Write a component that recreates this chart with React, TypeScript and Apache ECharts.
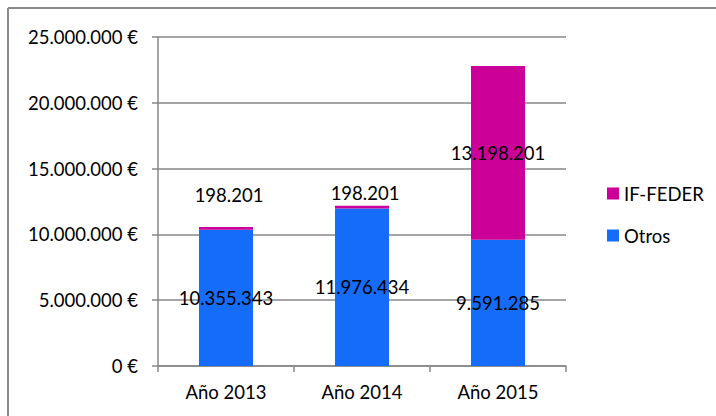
import React, { useEffect, useRef } from "react";
import * as echarts from "echarts";

const categories = ["Año 2013", "Año 2014", "Año 2015"];
const otros = [10355343, 11976434, 9591285];
const ifFeder = [198201, 198201, 13198201];
const seriesNames = ["IF-FEDER", "Otros"];
const yTicks = { min: 0, max: 25000000, interval: 5000000 };

const fmt = (v: number) => String(Math.round(v)).replace(/\B(?=(\d{3})+(?!\d))/g, ".");

const FONT = "Lato";
const FS = 18.5;

export default function App() {
  const ref = useRef<HTMLDivElement>(null);
  useEffect(() => {
    if (!ref.current) return;
    const chart = echarts.init(ref.current, null, { renderer: "svg" });
    const federLabelDist = [23, 3, 0];
    chart.setOption({
      animation: false,
      backgroundColor: "#ffffff",
      textStyle: { fontFamily: FONT },
      grid: { left: 158, right: 150, top: 37, bottom: 50, containLabel: false },
      legend: {
        data: seriesNames,
        orient: "vertical",
        left: 607,
        top: 184,
        padding: 0,
        itemWidth: 12,
        itemHeight: 12,
        itemGap: 23,
        icon: "rect",
        textStyle: { fontFamily: FONT, fontSize: FS, color: "#000", padding: [0, 0, 0, 0] },
      },
      xAxis: {
        type: "category",
        data: categories,
        axisLine: { show: true, lineStyle: { color: "#878787", width: 1.5 } },
        axisTick: { show: true, length: 6, alignWithLabel: false, lineStyle: { color: "#878787", width: 1.5 } },
        axisLabel: { fontFamily: FONT, fontSize: FS, color: "#000", margin: 16 },
        splitLine: { show: false },
      },
      yAxis: {
        type: "value",
        min: yTicks.min,
        max: yTicks.max,
        interval: yTicks.interval,
        axisLine: { show: true, lineStyle: { color: "#878787", width: 1.5 } },
        axisTick: { show: true, length: 6, lineStyle: { color: "#878787", width: 1.5 } },
        axisLabel: {
          fontFamily: FONT,
          fontSize: FS,
          color: "#000",
          margin: 20,
          formatter: (v: number) => fmt(v) + " €",
        },
        splitLine: { show: true, lineStyle: { color: "#878787", width: 1.5 } },
      },
      series: [
        {
          name: "Otros",
          type: "bar",
          stack: "total",
          barWidth: 54,
          data: otros,
          itemStyle: { color: "#146CF8" },
          label: {
            show: true,
            position: "inside",
            fontFamily: FONT,
            fontSize: FS,
            color: "#000",
            formatter: (p: any) => fmt(p.value),
          },
        },
        {
          name: "IF-FEDER",
          type: "bar",
          stack: "total",
          barWidth: 54,
          data: ifFeder.map((v, i) =>
            i < 2
              ? { value: v, label: { position: "top", distance: federLabelDist[i], offset: [3, 0] } }
              : { value: v, label: { position: "inside" } }
          ),
          itemStyle: { color: "#CC0099" },
          label: {
            show: true,
            fontFamily: FONT,
            fontSize: FS,
            color: "#000",
            formatter: (p: any) => fmt(p.value),
          },
        },
      ],
      graphic: [
        { type: "line", shape: { x1: 8, y1: 8, x2: 716, y2: 8 }, style: { stroke: "#8a8a8a", lineWidth: 2 } },
        { type: "line", shape: { x1: 8, y1: 8, x2: 8, y2: 416 }, style: { stroke: "#8a8a8a", lineWidth: 2 } },
      ],
    });
    return () => chart.dispose();
  }, []);
  return (
    <div
      ref={ref}
      style={{ position: "absolute", left: 0, top: 0, width: 716, height: 416 }}
    />
  );
}
